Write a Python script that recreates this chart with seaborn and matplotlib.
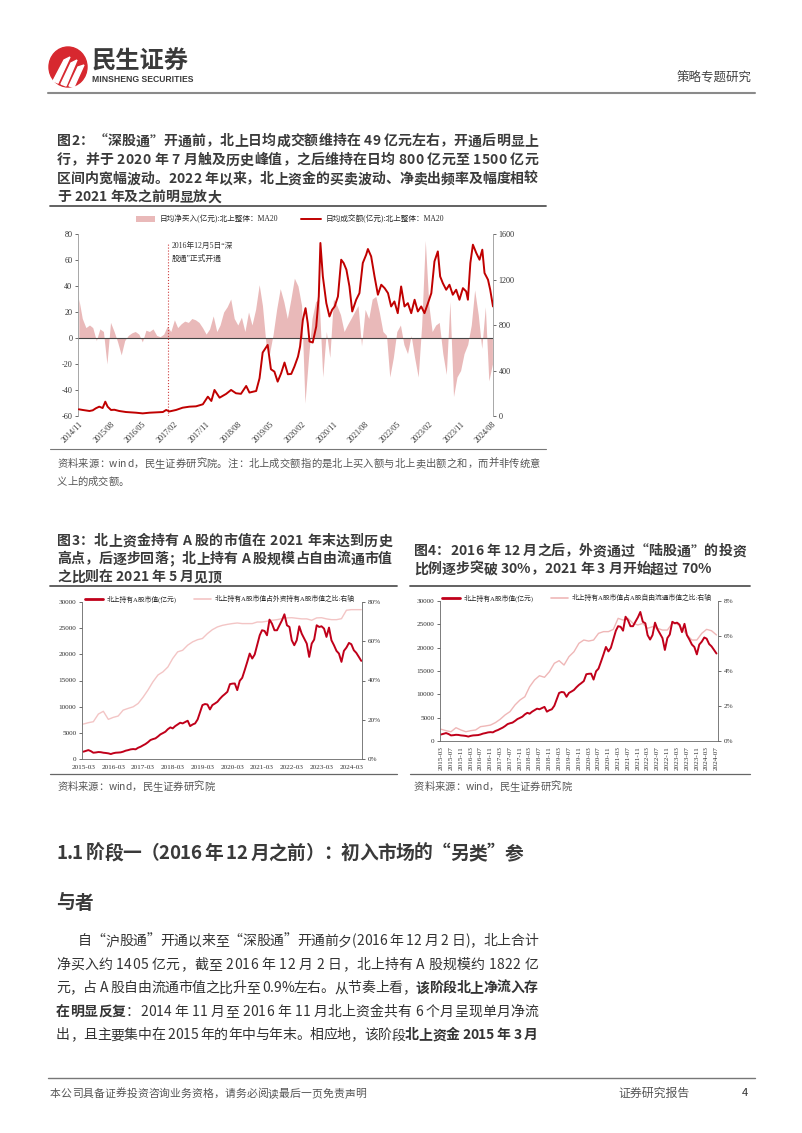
import numpy as np
import pandas as pd
import matplotlib
matplotlib.use('Agg')
import matplotlib.pyplot as plt
import matplotlib.dates as mdates
import seaborn as sns
from matplotlib.patches import Patch, Ellipse, Polygon
from matplotlib.lines import Line2D
from matplotlib.font_manager import FontProperties
from matplotlib.ticker import FuncFormatter

sns.set_theme(style='white')
CJK = ['Noto Sans CJK SC', 'DejaVu Sans']
SERIF = ['Liberation Serif', 'Noto Sans CJK SC']
plt.rcParams['font.family'] = CJK
plt.rcParams['axes.unicode_minus'] = False

# ---------------- data: figure 2 ----------------
netbuy_start = '2014-11-01'
netbuy_vals = [30, 15, 8, 10, 8, -2, 7, 5, -20, 12,
               5, -3, -13, -2, 2, 4, 5, 3, -3, 6,
               5, 7, 2, 1, 3, 9, 5, 14, 8, 11,
               13, 12, 15, 14, 12, 8, 3, 7, 17, 5,
               10, 20, 24, 30, 15, 10, 16, 5, 20, 10,
               22, 41, 25, -5, -12, 3, 22, 38, 28, 15,
               30, 46, 40, 25, -50, -15, 15, 28, 30, -30,
               5, -15, 30, 25, 18, 5, 10, 15, 20, 25,
               -6, 22, 15, 30, 32, 20, 5, 2, -30, -15,
               5, 10, -5, -12, 2, -15, -30, 10, 75, 25,
               5, 10, 12, -12, -28, 28, -45, -30, -25, -12,
               -5, 10, 37, 18, -8, 24, -33, -20]

turnover_dates = ['2014-11-01', '2014-12-05', '2015-02-01', '2015-03-01', '2015-03-28', '2015-04-26',
                  '2015-05-25', '2015-06-17', '2015-07-07', '2015-08-05', '2015-09-03', '2015-10-15',
                  '2015-12-12', '2016-03-07', '2016-05-04', '2016-07-01', '2016-10-25', '2016-11-22',
                  '2016-12-20', '2017-02-15', '2017-04-13', '2017-06-10', '2017-08-06', '2017-10-04',
                  '2017-11-16', '2017-12-16', '2018-01-12', '2018-02-25', '2018-04-22', '2018-06-04',
                  '2018-07-16', '2018-08-28', '2018-10-12', '2018-11-09', '2019-01-06', '2019-02-04',
                  '2019-03-03', '2019-04-15', '2019-05-13', '2019-06-12', '2019-07-10', '2019-08-09',
                  '2019-09-07', '2019-10-06', '2019-11-04', '2019-12-01', '2020-01-01', '2020-01-19',
                  '2020-02-12', '2020-03-06', '2020-03-25', '2020-04-09', '2020-05-07', '2020-06-06',
                  '2020-06-28', '2020-07-12', '2020-08-02', '2020-09-01', '2020-09-28', '2020-10-21',
                  '2020-11-12', '2020-12-10', '2021-01-07', '2021-01-28', '2021-02-21', '2021-03-19',
                  '2021-04-12', '2021-05-16', '2021-06-13', '2021-07-12', '2021-08-10', '2021-08-25',
                  '2021-09-22', '2021-10-21', '2021-11-19', '2021-12-18', '2022-01-16', '2022-02-14',
                  '2022-03-13', '2022-04-10', '2022-05-09', '2022-06-07', '2022-07-06', '2022-08-04',
                  '2022-09-02', '2022-10-01', '2022-10-29', '2022-11-27', '2022-12-25', '2023-01-24',
                  '2023-02-22', '2023-03-21', '2023-04-19', '2023-05-09', '2023-06-01', '2023-06-30',
                  '2023-07-28', '2023-08-26', '2023-09-24', '2023-10-22', '2023-11-21', '2023-12-19',
                  '2024-01-03', '2024-01-24', '2024-02-15', '2024-03-15', '2024-04-12', '2024-05-06',
                  '2024-05-25', '2024-06-24', '2024-07-13', '2024-08-06']
turnover_vals = [59, 53, 44, 50, 68, 82, 70, 126, 82, 53, 55, 44, 35, 29, 23, 29, 35, 53, 40, 53,
                 73, 82, 85, 103, 170, 132, 229, 161, 194, 229, 200, 195, 264, 206, 220, 332, 558, 625, 411, 390,
                 302, 376, 470, 367, 370, 434, 522, 611, 845, 948, 816, 655, 646, 787, 1051, 1521, 1227, 992, 875, 934,
                 963, 1051, 1374, 1345, 1286, 1139, 919, 1022, 1080, 1345, 1418, 1468, 1403, 1227, 1066, 1154, 1124, 1080, 963, 1007,
                 904, 1139, 963, 992, 904, 1022, 919, 963, 904, 992, 1080, 1359, 1447, 1227, 1168, 1110, 1154, 1066, 1110, 1022,
                 1124, 1095, 1022, 1345, 1506, 1433, 1374, 1462, 1257, 1198, 1110, 963]
fig2_ticks = ['2014/11', '2015/08', '2016/05', '2017/02', '2017/11', '2018/08', '2019/05',
              '2020/02', '2020/11', '2021/08', '2022/05', '2023/02', '2023/11', '2024/08']
sgt_open_date = '2016-12-05'

# ---------------- data: figures 3 & 4 ----------------
holdings_start = '2015-03-01'
holdings_vals = [1400, 1550, 1700, 1500, 1200, 1250, 1330, 1300, 1200, 1150,
                 1080, 950, 1100, 1200, 1230, 1270, 1400, 1590, 1700, 1840,
                 1900, 1850, 2150, 2350, 2600, 2860, 3200, 3620, 3800, 3940,
                 4300, 4700, 4950, 5210, 5700, 6040, 5850, 6290, 6600, 6930,
                 6800, 7060, 7310, 6290, 6600, 6800, 7560, 9000, 10300, 10500,
                 10420, 9470, 10300, 10600, 10930, 11500, 12010, 12400, 12840, 14300,
                 14400, 14430, 13160, 14940, 15510, 17000, 18560, 20150, 19200, 19960,
                 21800, 23640, 24600, 24470, 23640, 26630, 25870, 24600, 24600, 25550,
                 26500, 27650, 25550, 25230, 22690, 21740, 22690, 25360, 23960, 23010,
                 22060, 19510, 22060, 22820, 25550, 25230, 25360, 24920, 23330, 25110,
                 22690, 21740, 20660, 20150, 18560, 20660, 21290, 22180, 21930, 20780,
                 20280, 19510, 18750]
ratio_start = '2015-03-01'   # bi-monthly observations
ratio_foreign = [17.8, 18.5, 19.0, 22.9, 24.3, 20.2, 21.2, 21.9, 24.9, 25.8,
                 26.6, 28.3, 31.4, 35.1, 39.3, 42.8, 44.4, 46.9, 51.2, 54.6,
                 55.4, 58.0, 59.7, 60.8, 61.4, 63.9, 65.9, 67.3, 68.1, 68.6,
                 69.0, 69.3, 69.0, 69.0, 69.0, 69.8, 69.8, 70.2, 70.7, 71.0,
                 71.5, 71.9, 72.0, 71.7, 71.4, 71.4, 70.7, 71.9, 72.0, 71.4,
                 71.0, 71.0, 71.5, 75.8, 76.1, 76.1, 76.1]
ratio_freefloat = [0.67, 0.59, 0.53, 0.76, 0.63, 0.53, 0.59, 0.63, 0.82, 0.86,
                   0.91, 1.05, 1.24, 1.49, 1.68, 2.06, 2.34, 2.53, 3.10, 3.49,
                   3.73, 3.64, 3.96, 4.44, 4.59, 4.34, 4.82, 5.10, 5.58, 5.77,
                   5.71, 5.77, 6.15, 6.25, 6.25, 6.38, 7.01, 6.91, 7.01, 6.72,
                   6.63, 6.72, 6.44, 6.53, 6.44, 6.34, 6.34, 6.72, 6.69, 6.44,
                   6.06, 5.77, 5.77, 6.15, 6.38, 6.30, 6.06]

# ---------------- figure ----------------
W, H = 802, 1133
fig = plt.figure(figsize=(W / 100, H / 100), dpi=100)
bg = fig.add_axes([0, 0, 1, 1])
bg.set_xlim(0, W)
bg.set_ylim(H, 0)
bg.axis('off')


def px_axes(l, t, r, b):
    return fig.add_axes([l / W, 1 - b / H, (r - l) / W, (b - t) / H])


renderer = fig.canvas.get_renderer()
_cache = {}


def tw(s, fp):
    key = (s, fp.get_size(), fp.get_weight())
    if key not in _cache:
        _cache[key] = renderer.get_text_width_height_descent(s, fp, ismath=False)[0]
    return _cache[key]


def adv(ch, fp):
    return tw('国' + ch + '国', fp) - tw('国国', fp)


def draw_line(x0, x1, yc, segs, size, color='#333333', justify=True):
    fps = {False: FontProperties(family=CJK, size=size),
           True: FontProperties(family=CJK, size=size, weight='bold')}
    items = []
    for s, b in segs:
        for ch in s:
            items.append((ch, b, adv(ch, fps[b])))
    total = sum(w for _, _, w in items)
    extra = (x1 - x0 - total) / (len(items) - 1) if (justify and len(items) > 1) else 0
    base = yc + 0.38 * size * 100 / 72
    x = x0
    for ch, b, w in items:
        if ch != ' ':
            bg.text(x, base, ch, fontproperties=fps[b], color=color, va='baseline', ha='left')
        x += w + extra


# ---------------- header ----------------
bg.add_patch(Ellipse((68, 67), 38, 40, color='#d7282f'))
for pts in ([(53, 81), (64, 60), (70, 57), (58, 83)],
            [(61, 84), (71, 63), (77, 60), (66, 86)],
            [(69, 86), (78, 67), (84, 65), (74, 87)]):
    bg.add_patch(Polygon(pts, closed=True, color='white'))
bg.text(92, 62, '民生证券', fontsize=17.5, fontweight='bold', color='#3a3a3a', va='center', ha='left', family=CJK)
bg.text(92, 79, 'MINSHENG SECURITIES', fontsize=6.2, fontweight='bold', color='#3a3a3a', va='center', ha='left',
        family=['Liberation Sans Narrow', 'Liberation Sans', 'DejaVu Sans'])
bg.text(752, 78, '策略专题研究', fontsize=9, color='#444444', va='center', ha='right', family=CJK)
bg.plot([48, 755], [93, 93], color='#8a8a8a', lw=1.5)

# ---------------- figure 2 title ----------------
TC = '#3a3a3a'
draw_line(57, 538, 140, [('图2：“深股通”开通前，北上日均成交额维持在 49 亿元左右，开通后明显上', True)], 10, TC)
draw_line(57, 538, 159, [('行，并于 2020 年 7 月触及历史峰值，之后维持在日均 800 亿元至 1500 亿元', True)], 10, TC)
draw_line(57, 538, 178, [('区间内宽幅波动。2022 年以来，北上资金的买卖波动、净卖出频率及幅度相较', True)], 10, TC)
draw_line(57, 538, 196, [('于 2021 年及之前明显放大', True)], 10, TC, justify=False)
bg.plot([50, 546], [206, 206], color='#555555', lw=1.3)

# ---------------- figure 2 chart ----------------
ax = px_axes(78, 234, 493, 416)
nb_dates = pd.date_range(netbuy_start, periods=len(netbuy_vals), freq='MS')
ax.fill_between(nb_dates, 0, netbuy_vals, color='#e9b9b9', linewidth=0)
ax.set_ylim(-60, 80)
ax.set_yticks(range(-60, 81, 20))
ax.axhline(0, color='#444444', lw=0.8)
ax.axvline(pd.Timestamp(sgt_open_date), ymin=0, ymax=0.95, color='#d04040', ls=':', lw=0.8)
ax.text(pd.Timestamp('2017-01-10'), 66, '2016年12月5日“深\n股通”正式开通', fontsize=5.6, family=SERIF,
        color='#333333', va='center', ha='left', linespacing=1.7)
ax2 = ax.twinx()
sns.lineplot(x=pd.to_datetime(turnover_dates), y=turnover_vals, ax=ax2, color='#c00000', linewidth=1.4)
ax2.set_ylim(0, 1600)
ax2.set_yticks([0, 400, 800, 1200, 1600])
tick_dates = pd.to_datetime([t.replace('/', '-') + '-01' for t in fig2_ticks])
ax.set_xlim(pd.Timestamp('2014-10-25'), pd.Timestamp('2024-08-06'))
ax.set_xticks(tick_dates)
ax.set_xticklabels(fig2_ticks, rotation=45, ha='right', rotation_mode='anchor', family=SERIF, fontsize=5.9, color='#333333')
for a in (ax, ax2):
    a.set_xlabel('')
    a.set_ylabel('')
    for s in ('top', 'bottom'):
        a.spines[s].set_visible(False)
ax.spines['right'].set_visible(False)
ax.spines['left'].set_color('#999999')
ax.spines['left'].set_linewidth(0.6)
ax2.spines['left'].set_visible(False)
ax2.spines['right'].set_color('#999999')
ax2.spines['right'].set_linewidth(0.6)
ax.tick_params(axis='x', length=0, pad=3)
ax.tick_params(axis='y', length=2, width=0.5, colors='#333333', labelsize=5.9, pad=2)
ax2.tick_params(axis='y', length=2, width=0.5, colors='#333333', labelsize=5.9, pad=2)
for lab in ax.get_yticklabels() + ax2.get_yticklabels():
    lab.set_family(SERIF)
ax.patch.set_visible(False)

leg_fp = FontProperties(family=SERIF, size=5.5)
fig.legend(handles=[Patch(facecolor='#e9b9b9', edgecolor='none', label='日均净买入(亿元):北上整体：MA20'),
                    Line2D([], [], color='#c00000', lw=1.4, label='日均成交额(亿元):北上整体：MA20')],
           loc='center', bbox_to_anchor=(290 / W, 1 - 219 / H), bbox_transform=fig.transFigure, ncol=2,
           frameon=False, prop=leg_fp, handlelength=2.6, handleheight=0.8, columnspacing=3.0, handletextpad=0.6)

bg.plot([50, 546], [449, 449], color='#777777', lw=0.8)
SC = '#555555'
draw_line(57, 540, 463, [('资料来源：wind，民生证券研究院。注：北上成交额指的是北上买入额与北上卖出额之和，而并非传统意', False)], 7.4, SC)
draw_line(57, 540, 481, [('义上的成交额。', False)], 7.4, SC, justify=False)

# ---------------- figure 3 / 4 titles ----------------
draw_line(57, 392, 540, [('图3：北上资金持有 A 股的市值在 2021 年末达到历史', True)], 10, TC)
draw_line(57, 392, 558, [('高点，后逐步回落；北上持有 A 股规模占自由流通市值', True)], 10, TC)
draw_line(57, 392, 576, [('之比则在 2021 年 5 月见顶', True)], 10, TC, justify=False)
bg.plot([50, 397], [586, 586], color='#555555', lw=1.3)

draw_line(414, 746, 550, [('图4：2016 年 12 月之后，外资通过“陆股通”的投资', True)], 10, TC)
draw_line(414, 746, 568, [('比例逐步突破 30%，2021 年 3 月开始超过 70%', True)], 10, TC, justify=False)
bg.plot([410, 750], [586, 586], color='#555555', lw=1.3)

RED = '#c0001a'
h_dates = pd.date_range(holdings_start, periods=len(holdings_vals), freq='MS')
r_dates = pd.date_range(ratio_start, periods=len(ratio_foreign), freq='2MS')


def style_pair(a, b, fs=5.2):
    a.spines['top'].set_visible(False)
    b.spines['top'].set_visible(False)
    a.spines['right'].set_visible(False)
    b.spines['left'].set_visible(False)
    b.spines['bottom'].set_visible(False)
    for sp in (a.spines['left'], a.spines['bottom'], b.spines['right']):
        sp.set_color('#666666')
        sp.set_linewidth(0.6)
    for x in (a, b):
        x.set_xlabel('')
        x.set_ylabel('')
    a.tick_params(axis='y', length=2, width=0.5, colors='#333333', labelsize=fs, pad=2)
    b.tick_params(axis='y', length=2, width=0.5, colors='#333333', labelsize=fs, pad=2)
    a.tick_params(axis='x', length=2, width=0.5, colors='#333333', labelsize=fs, pad=2)
    for lab in a.get_yticklabels() + b.get_yticklabels() + a.get_xticklabels():
        lab.set_family(SERIF)
    a.set_zorder(b.get_zorder() + 1)
    a.patch.set_visible(False)


# figure 3 chart
ax3 = px_axes(82, 602, 362, 759)
ax3b = ax3.twinx()
sns.lineplot(x=r_dates, y=ratio_foreign, ax=ax3b, color='#f3c5c5', linewidth=1.0)
sns.lineplot(x=h_dates, y=holdings_vals, ax=ax3, color=RED, linewidth=1.4)
ax3.set_ylim(0, 30000)
ax3.set_yticks(range(0, 30001, 5000))
ax3b.set_ylim(0, 80)
ax3b.set_yticks(range(0, 81, 20))
ax3b.yaxis.set_major_formatter(FuncFormatter(lambda v, p: f'{v:.0f}%'))
ax3.set_xlim(pd.Timestamp('2015-02-12'), pd.Timestamp('2024-07-10'))
ax3.set_xticks(pd.date_range('2015-03-01', '2024-03-01', freq='12MS'))
ax3.xaxis.set_major_formatter(mdates.DateFormatter('%Y-%m'))
style_pair(ax3, ax3b)
fig.legend(handles=[Line2D([], [], color=RED, lw=2.0, label='北上持有A股市值(亿元)'),
                    Line2D([], [], color='#f3c5c5', lw=1.2, label='北上持有A股市值占外资持有A股市值之比:右轴')],
           loc='center', bbox_to_anchor=(220 / W, 1 - 599 / H), bbox_transform=fig.transFigure, ncol=2,
           frameon=False, prop=FontProperties(family=SERIF, size=4.9), handlelength=2.6,
           columnspacing=2.5, handletextpad=0.5)
bg.plot([50, 397], [774, 774], color='#666666', lw=0.9)
draw_line(57, 200, 786, [('资料来源：wind，民生证券研究院', False)], 7.4, SC, justify=False)

# figure 4 chart
ax4 = px_axes(440, 601, 718, 741)
ax4b = ax4.twinx()
sns.lineplot(x=r_dates, y=ratio_freefloat, ax=ax4b, color='#efb7b7', linewidth=1.0)
sns.lineplot(x=h_dates, y=holdings_vals, ax=ax4, color=RED, linewidth=1.4)
ax4.set_ylim(0, 30000)
ax4.set_yticks(range(0, 30001, 5000))
ax4b.set_ylim(0, 8)
ax4b.set_yticks(range(0, 9, 2))
ax4b.yaxis.set_major_formatter(FuncFormatter(lambda v, p: f'{v:.0f}%'))
ax4.set_xlim(pd.Timestamp('2015-02-15'), pd.Timestamp('2024-07-20'))
ax4.set_xticks(pd.date_range('2015-03-01', '2024-07-01', freq='4MS'))
ax4.xaxis.set_major_formatter(mdates.DateFormatter('%Y-%m'))
style_pair(ax4, ax4b, fs=5.2)
for lab in ax4.get_xticklabels():
    lab.set_rotation(90)
fig.legend(handles=[Line2D([], [], color=RED, lw=2.0, label='北上持有A股市值(亿元)'),
                    Line2D([], [], color='#efb7b7', lw=1.2, label='北上持有A股市值占A股自由流通市值之比:右轴')],
           loc='center', bbox_to_anchor=(577 / W, 1 - 598 / H), bbox_transform=fig.transFigure, ncol=2,
           frameon=False, prop=FontProperties(family=SERIF, size=4.9), handlelength=2.6,
           columnspacing=2.5, handletextpad=0.5)
bg.plot([410, 750], [774, 774], color='#666666', lw=0.9)
draw_line(414, 560, 786, [('资料来源：wind，民生证券研究院', False)], 7.4, SC, justify=False)

# ---------------- section heading & body ----------------
draw_line(56, 523, 852, [('1.1 阶段一（2016 年 12 月之前）：初入市场的“另类”参', True)], 13.5, TC)
draw_line(56, 523, 902, [('与者', True)], 13.5, TC, justify=False)

BC = '#333333'
BS = 10
body = [
    (78, [('自“沪股通”开通以来至“深股通”开通前夕(2016 年 12 月 2 日)，北上合计', False)]),
    (56, [('净买入约 1405 亿元，截至 2016 年 12 月 2 日，北上持有 A 股规模约 1822 亿', False)]),
    (56, [('元，占 A 股自由流通市值之比升至 0.9%左右。从节奏上看，', False), ('该阶段北上净流入存', True)]),
    (56, [('在明显反复', True), ('：2014 年 11 月至 2016 年 11 月北上资金共有 6 个月呈现单月净流', False)]),
    (56, [('出，且主要集中在 2015 年的年中与年末。相应地，该阶段', False), ('北上资金 2015 年 3 月', True)]),
]
for i, (x0, segs) in enumerate(body):
    draw_line(x0, 538, 940 + 23.5 * i, segs, BS, BC)

# ---------------- footer ----------------
bg.plot([48, 755], [1078, 1078], color='#777777', lw=1.0)
draw_line(50, 366, 1093, [('本公司具备证券投资咨询业务资格，请务必阅读最后一页免责声明', False)], 7.8, '#555555')
bg.text(690, 1093, '证券研究报告', fontsize=8.6, color='#555555', va='center', ha='right', family=CJK)
bg.text(745, 1093, '4', fontsize=8, color='#333333', va='center', ha='center', family=CJK)

fig.savefig('out.png', dpi=100)
